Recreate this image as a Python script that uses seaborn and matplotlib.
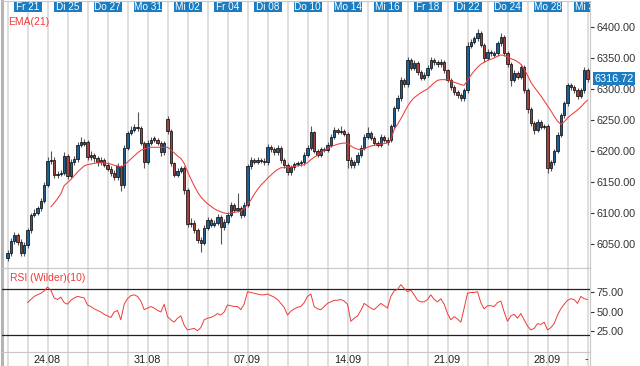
import numpy as np
import pandas as pd
import matplotlib
matplotlib.use("Agg")
import matplotlib.pyplot as plt
import matplotlib.transforms as mtransforms
from matplotlib.patches import Rectangle
import seaborn as sns

# intraday bars, 6 per trading day (Do 20.08 - Mi 30.09)
opens = [6028, 6035, 6055, 6065, 6053, 6035,
         6048, 6072, 6097, 6100, 6108, 6120,
         6145, 6184, 6185, 6161, 6163, 6165,
         6192, 6160, 6182, 6187, 6210, 6212,
         6215, 6190, 6194, 6188, 6182, 6185,
         6178, 6171, 6165, 6158, 6175, 6145,
         6205, 6229, 6234, 6239, 6237, 6213,
         6183, 6213, 6221, 6218, 6213, 6198,
         6252, 6232, 6180, 6162, 6168, 6172,
         6137, 6082, 6084, 6073, 6057, 6052,
         6076, 6089, 6081, 6084, 6094, 6077,
         6086, 6097, 6113, 6105, 6108, 6097,
         6113, 6175, 6185, 6183, 6186, 6184,
         6182, 6206, 6203, 6198, 6205, 6185,
         6177, 6166, 6174, 6179, 6180, 6182,
         6194, 6205, 6230, 6200, 6194, 6203,
         6202, 6210, 6223, 6234, 6231, 6232,
         6228, 6185, 6177, 6182, 6194, 6205,
         6223, 6229, 6221, 6213, 6210, 6223,
         6214, 6218, 6240, 6269, 6285, 6315,
         6308, 6347, 6334, 6342, 6327, 6318,
         6323, 6334, 6347, 6343, 6340, 6344,
         6330, 6315, 6303, 6295, 6290, 6285,
         6298, 6370, 6376, 6382, 6390, 6371,
         6350, 6360, 6355, 6358, 6374, 6384,
         6358, 6340, 6315, 6326, 6320, 6335,
         6298, 6268, 6245, 6234, 6247, 6239,
         6240, 6172, 6182, 6200, 6226, 6258,
         6277, 6306, 6303, 6298, 6289, 6298,
         6331]
highs = [6040, 6060, 6070, 6068, 6058, 6053,
         6076, 6100, 6106, 6112, 6124, 6150,
         6190, 6200, 6190, 6168, 6170, 6198,
         6195, 6187, 6192, 6214, 6222, 6220,
         6218, 6200, 6197, 6192, 6190, 6188,
         6182, 6175, 6169, 6180, 6178, 6209,
         6233, 6240, 6244, 6263, 6240, 6216,
         6217, 6222, 6224, 6221, 6216, 6216,
         6256, 6235, 6183, 6173, 6176, 6175,
         6140, 6092, 6088, 6076, 6062, 6080,
         6093, 6092, 6088, 6098, 6097, 6090,
         6101, 6118, 6116, 6132, 6112, 6117,
         6179, 6190, 6188, 6190, 6189, 6188,
         6212, 6209, 6207, 6209, 6208, 6188,
         6180, 6178, 6183, 6184, 6186, 6198,
         6210, 6240, 6233, 6204, 6207, 6206,
         6214, 6227, 6238, 6237, 6240, 6236,
         6230, 6190, 6186, 6198, 6209, 6227,
         6238, 6232, 6224, 6216, 6227, 6226,
         6222, 6244, 6273, 6290, 6320, 6318,
         6352, 6350, 6347, 6345, 6330, 6327,
         6338, 6351, 6350, 6347, 6349, 6347,
         6333, 6318, 6306, 6299, 6294, 6302,
         6375, 6380, 6386, 6396, 6393, 6374,
         6365, 6363, 6362, 6378, 6390, 6387,
         6361, 6343, 6330, 6329, 6340, 6338,
         6301, 6271, 6248, 6251, 6250, 6244,
         6243, 6186, 6204, 6230, 6262, 6281,
         6310, 6309, 6306, 6301, 6301, 6336,
         6334]
lows = [6022, 6030, 6050, 6048, 6030, 6031,
        6044, 6068, 6093, 6096, 6104, 6116,
        6142, 6179, 6157, 6157, 6159, 6161,
        6155, 6156, 6178, 6183, 6206, 6208,
        6186, 6186, 6183, 6175, 6178, 6174,
        6167, 6160, 6153, 6154, 6135, 6141,
        6201, 6225, 6230, 6232, 6209, 6172,
        6179, 6209, 6214, 6209, 6192, 6194,
        6228, 6176, 6158, 6158, 6164, 6130,
        6078, 6078, 6068, 6052, 6037, 6048,
        6072, 6077, 6077, 6080, 6050, 6072,
        6082, 6093, 6101, 6101, 6092, 6093,
        6109, 6171, 6179, 6179, 6180, 6178,
        6178, 6199, 6194, 6194, 6181, 6173,
        6162, 6162, 6170, 6175, 6176, 6178,
        6190, 6201, 6196, 6190, 6190, 6198,
        6198, 6206, 6219, 6227, 6227, 6224,
        6172, 6173, 6173, 6178, 6190, 6201,
        6219, 6217, 6209, 6206, 6206, 6214,
        6210, 6214, 6236, 6265, 6281, 6304,
        6304, 6330, 6330, 6323, 6314, 6314,
        6319, 6330, 6339, 6336, 6336, 6326,
        6311, 6299, 6291, 6286, 6280, 6281,
        6294, 6366, 6372, 6378, 6367, 6344,
        6346, 6354, 6351, 6354, 6370, 6354,
        6336, 6305, 6311, 6316, 6316, 6294,
        6262, 6240, 6228, 6230, 6235, 6235,
        6165, 6168, 6178, 6196, 6222, 6254,
        6273, 6299, 6294, 6284, 6285, 6294,
        6312]
closes = [6035, 6055, 6065, 6053, 6035, 6048,
          6072, 6097, 6100, 6108, 6120, 6145,
          6184, 6185, 6161, 6163, 6165, 6192,
          6160, 6182, 6187, 6210, 6215, 6215,
          6190, 6194, 6188, 6182, 6185, 6178,
          6171, 6165, 6158, 6175, 6145, 6205,
          6229, 6234, 6239, 6237, 6213, 6183,
          6213, 6218, 6218, 6213, 6198, 6213,
          6232, 6180, 6162, 6168, 6172, 6137,
          6082, 6084, 6073, 6057, 6052, 6076,
          6089, 6081, 6084, 6094, 6077, 6086,
          6097, 6113, 6105, 6108, 6097, 6113,
          6175, 6185, 6183, 6186, 6184, 6182,
          6206, 6203, 6198, 6205, 6185, 6177,
          6166, 6174, 6179, 6180, 6182, 6194,
          6205, 6230, 6200, 6194, 6203, 6202,
          6210, 6223, 6234, 6231, 6232, 6228,
          6185, 6177, 6182, 6194, 6205, 6223,
          6229, 6221, 6213, 6210, 6223, 6218,
          6218, 6240, 6269, 6285, 6315, 6308,
          6347, 6334, 6342, 6327, 6318, 6323,
          6334, 6347, 6343, 6340, 6344, 6330,
          6315, 6303, 6295, 6290, 6285, 6298,
          6370, 6376, 6382, 6390, 6371, 6350,
          6360, 6358, 6358, 6374, 6384, 6358,
          6340, 6315, 6326, 6320, 6335, 6298,
          6268, 6245, 6234, 6247, 6239, 6240,
          6172, 6182, 6200, 6226, 6258, 6277,
          6306, 6303, 6298, 6289, 6298, 6331,
          6316.72]

# EMA(21), first value at bar 13
ema_start = 13
ema21 = [6110, 6116, 6123, 6131,
         6144, 6149, 6154, 6160, 6166, 6171, 6176, 6178, 6179, 6180,
         6181, 6181, 6181, 6180, 6179, 6177, 6176, 6174, 6177, 6182,
         6187, 6192, 6197, 6201, 6203, 6205, 6206, 6206, 6206, 6206,
         6206, 6206, 6202, 6197, 6192, 6188, 6180, 6167, 6155, 6144,
         6134, 6126, 6120, 6115, 6111, 6107, 6104, 6102, 6100, 6099,
         6100, 6101, 6102, 6103, 6107, 6113, 6121, 6130, 6138, 6145,
         6150, 6156, 6161, 6166, 6170, 6173, 6173, 6174, 6174, 6175,
         6176, 6177, 6178, 6181, 6186, 6190, 6193, 6197, 6201, 6204,
         6207, 6209, 6211, 6212, 6213, 6212, 6208, 6205, 6203, 6202,
         6203, 6206, 6208, 6209, 6210, 6211, 6212, 6213, 6218,
         6235, 6243, 6252, 6262, 6272, 6280, 6286, 6290, 6294, 6297,
         6300, 6305, 6310, 6314, 6315, 6315, 6315, 6313, 6311, 6309,
         6307, 6306, 6314, 6322, 6329, 6335, 6340, 6343, 6346, 6348,
         6350, 6353, 6355, 6354, 6352, 6349, 6347, 6344, 6340, 6332,
         6322, 6311, 6303, 6296, 6289, 6281, 6273, 6265, 6256, 6248,
         6243, 6247, 6253, 6258, 6262, 6266, 6271, 6277, 6282]

# RSI (Wilder)(10), first value at bar 6
rsi_start = 6
rsi10 = [62, 66, 70, 72, 74, 77, 82, 78, 68, 66, 69,
         62, 60, 65, 68, 70, 69, 68, 59, 57, 54,
         52, 50, 47, 45, 43, 50, 52, 40, 60, 67,
         71, 72, 70, 64, 53, 55, 57, 55, 52, 50,
         60, 44, 40, 37, 42, 45, 33, 27, 28, 29,
         26, 30, 40, 42, 43, 45, 48, 46, 50, 59,
         58, 57, 57, 53, 60, 76, 75, 74, 73, 72,
         72, 73, 71, 69, 66, 61, 56, 46, 51, 54,
         56, 57, 62, 70, 73, 57, 54, 53, 57, 61,
         63, 65, 65, 66, 64, 60, 38, 42, 45, 52,
         61, 58, 55, 53, 57, 61, 58, 55, 70,
         77, 79, 85, 80, 76, 78, 72, 65, 63, 63,
         66, 72, 66, 63, 67, 60, 48, 40, 44, 41,
         37, 55, 74, 75, 75, 76, 62, 54, 58, 58,
         57, 62, 64, 50, 38, 45, 47, 42, 48, 40,
         32, 27, 29, 35, 34, 37, 27, 30, 35, 46,
         54, 60, 65, 67, 66, 61, 70, 67, 66]

days = ["Do 20", "Fr 21", "Mo 24", "Di 25", "Mi 26", "Do 27", "Fr 28",
        "Mo 31", "Di 01", "Mi 02", "Do 03", "Fr 04", "Mo 07", "Di 08",
        "Mi 09", "Do 10", "Fr 11", "Mo 14", "Di 15", "Mi 16", "Do 17",
        "Fr 18", "Mo 21", "Di 22", "Mi 23", "Do 24", "Fr 25", "Mo 28",
        "Di 29", "Mi 30"]
week_labels = ["24.08", "31.08", "07.09", "14.09", "21.09", "28.09"]
week_days = ["Mo 24", "Mo 31", "Mo 07", "Mo 14", "Mo 21", "Mo 28"]
last_price = 6316.72
bars_per_day = 6

sns.set_style("white")
plt.rcParams["font.family"] = ["Liberation Sans", "DejaVu Sans"]

BLUE_TAG = "#1b7cc1"
RED = "#f03a3a"
GRID = "#d6d6d6"

df = pd.DataFrame({"open": opens, "high": highs, "low": lows, "close": closes})
df["x"] = np.arange(len(df))
ema_df = pd.DataFrame({"x": np.arange(ema_start, ema_start + len(ema21)), "ema": ema21})
rsi_df = pd.DataFrame({"x": np.arange(rsi_start, rsi_start + len(rsi10)), "rsi": rsi10})

W, H = 640, 366
fig = plt.figure(figsize=(W / 100, H / 100), dpi=100)


def px_axes(x0, y0, x1, y1):
    return fig.add_axes([x0 / W, 1 - y1 / H, (x1 - x0) / W, (y1 - y0) / H])


ax = px_axes(2, 1, 590, 268)
ax_rsi = px_axes(2, 268, 590, 352)
ax_bot = px_axes(2, 352, 590, 366)

xlim = (-1.65, 174.75)
day_starts = [i * bars_per_day for i in range(len(days))]

for a in (ax, ax_rsi, ax_bot):
    a.set_xlim(*xlim)
    a.set_xticks([])
    for d in day_starts:
        a.axvline(d, color=GRID, lw=1.1, zorder=0)
    for s in a.spines.values():
        s.set_color("#c8c8c8")
        s.set_linewidth(0.8)
    a.spines["left"].set_linewidth(2.2)
    a.spines["left"].set_color("#b4b4b4")

# candles
up = df["close"] >= df["open"]
ax.vlines(df["x"], df["low"], df["high"], color="#555555", lw=0.8, zorder=2)
ax.bar(df["x"], df["close"] - df["open"], bottom=df["open"], width=0.72,
       color=np.where(up, "#1f5f94", "#9a4444"), edgecolor="black",
       linewidth=0.5, zorder=3)
sns.lineplot(data=ema_df, x="x", y="ema", ax=ax, color=RED, lw=0.75, zorder=4)

ax.set_ylim(6011.3, 6441.9)
ax.yaxis.tick_right()
ax.set_yticks(np.arange(6050, 6401, 50))
ax.yaxis.set_major_formatter(matplotlib.ticker.StrMethodFormatter("{x:.2f}"))
ax.tick_params(axis="y", right=True, length=3, width=0.8, colors="#333333",
               labelsize=7.8, pad=2)
ax.set_xlabel("")
ax.set_ylabel("")
ax.text(0.3, 6408, "EMA(21)", color=RED, fontsize=7.5, va="center", ha="left")

# last price box
ax.annotate(f"{last_price:.2f}", xy=(1.0, last_price),
            xycoords=mtransforms.blended_transform_factory(ax.transAxes, ax.transData),
            xytext=(3, 0), textcoords="offset points", va="center", ha="left",
            color="white", fontsize=7.8,
            bbox=dict(boxstyle="square,pad=0.15", fc=BLUE_TAG, ec="none"),
            annotation_clip=False)

# top day tags
trans_tag = mtransforms.blended_transform_factory(ax.transData, ax.transAxes)
for d, name in zip(day_starts, days):
    if name in days[1::2]:
        ax.add_patch(Rectangle((d - 4.2, 1 - 11 / 267), 8.4, 10 / 267,
                               transform=trans_tag, fc=BLUE_TAG, ec="none",
                               zorder=6, clip_on=True))
        ax.text(d, 1 - 6 / 267, name, transform=trans_tag, color="white",
                fontsize=7.2, ha="center", va="center", zorder=7, clip_on=True)

# RSI panel
sns.lineplot(data=rsi_df, x="x", y="rsi", ax=ax_rsi, color=RED, lw=0.7, zorder=4)
ax_rsi.axhline(80, color="#222222", lw=0.9, zorder=3)
ax_rsi.axhline(20, color="#222222", lw=0.9, zorder=3)
ax_rsi.set_ylim(-1.3, 106.4)
ax_rsi.yaxis.tick_right()
ax_rsi.set_yticks([25, 50, 75])
ax_rsi.yaxis.set_major_formatter(matplotlib.ticker.StrMethodFormatter("{x:.2f}"))
ax_rsi.tick_params(axis="y", right=True, length=3, width=0.8, colors="#333333",
                   labelsize=7.8, pad=2)
ax_rsi.set_xlabel("")
ax_rsi.set_ylabel("")
ax_rsi.text(0.8, 94, "RSI (Wilder)(10)", color=RED, fontsize=7.5, va="center", ha="left")

# bottom date labels
ax_bot.set_ylim(0, 1)
ax_bot.set_yticks([])
for lab, dname in zip(week_labels, week_days):
    ax_bot.text(day_starts[days.index(dname)], 0.45, lab, ha="center", va="center",
                fontsize=7.8, color="#222222")
ax_bot.text(173.5, 0.5, "-", ha="center", va="center", fontsize=7.8, color="#222222")

fig.savefig("out.png", dpi=100)
